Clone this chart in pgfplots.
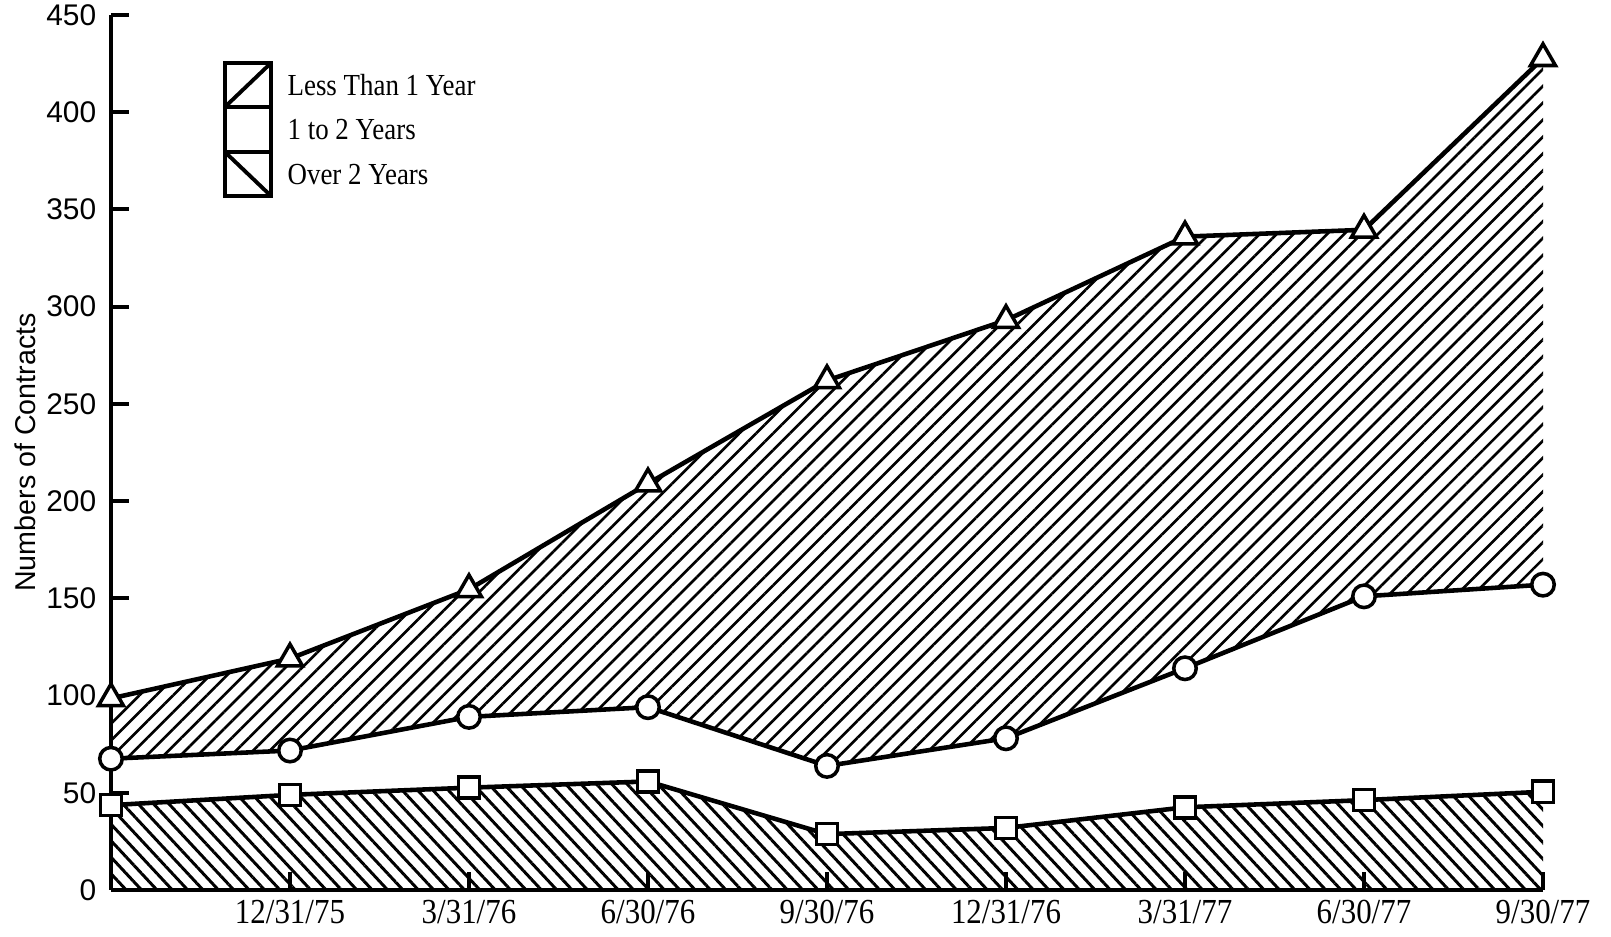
\documentclass[border=0pt]{standalone}
\usepackage{pgfplots}
\pgfplotsset{compat=1.18}
\usepackage{pgfplotstable}
\usepgfplotslibrary{fillbetween}
\usetikzlibrary{patterns.meta}
\usepackage{fontspec}
\setmainfont{Liberation Serif}[FakeStretch=0.88]
\newfontfamily\sansf{Liberation Sans}

\pgfplotstableread{
x tri cir sq
0 98.5 67.5 43.6
1 119 71.7 48.9
2 154.6 89 52.6
3 209 94 55.8
4 262 63.8 28.7
5 293 78 31.9
6 336 114 42.5
7 339.5 151 46.2
8 427.7 157 50.5
}\data

\begin{document}
\begin{tikzpicture}
\begin{axis}[
  width=143.2mm, height=87.5mm, scale only axis,
  xmin=0, xmax=8, ymin=0, ymax=450,
  axis lines=left, axis line style={-, line width=1.2pt},
  xtick={0,...,8},
  xticklabels={,12/31/75,3/31/76,6/30/76,9/30/76,12/31/76,3/31/77,6/30/77,9/30/77},
  ytick={0,50,...,450},
  tick align=inside, major tick length=5pt,
  tick style={line width=1.1pt, black},
  /pgf/number format/assume math mode=true,
  yticklabel style={font=\sansf\fontsize{8.5}{10}\selectfont, inner xsep=4pt, inner ysep=0pt},
  xticklabel style={font=\fontsize{10}{12}\selectfont, yshift=0.5pt},
  ylabel={Numbers of Contracts},
  ylabel style={font=\sansf\fontsize{8.15}{10}\selectfont, at={(axis description cs:-0.06,0.5)}, anchor=center},
  clip=false,
]
\addplot[draw=none, name path=tri, forget plot] table[x=x, y=tri] {\data};
\addplot[draw=none, name path=cir, forget plot] table[x=x, y=cir] {\data};
\addplot[pattern={Lines[angle=45, distance=3.4pt, line width=0.75pt]}, draw=none] fill between[of=tri and cir];
\addplot[pattern={Lines[angle=-47, distance=3.2pt, line width=0.85pt]}, draw=none] table[x=x, y=sq] {\data} \closedcycle;

\addplot[black, line width=1.3pt, mark=triangle*, mark size=4.1pt, mark options={fill=white, line width=1pt}] table[x=x, y=tri] {\data};
\addplot[black, line width=1.3pt, mark=*, mark size=3.2pt, mark options={fill=white, line width=1pt}] table[x=x, y=cir] {\data};
\addplot[black, line width=1.3pt, mark=square*, mark size=3pt, mark options={fill=white, line width=1pt}] table[x=x, y=sq] {\data};

% legend
\draw[line width=1.1pt] (axis cs:0.637,356.9) rectangle (axis cs:0.894,425.3);
\draw[line width=1.1pt] (axis cs:0.637,402.7) -- (axis cs:0.894,402.7);
\draw[line width=1.1pt] (axis cs:0.637,379.5) -- (axis cs:0.894,379.5);
\draw[line width=1.1pt] (axis cs:0.637,402.7) -- (axis cs:0.894,425.3);
\draw[line width=1.1pt] (axis cs:0.637,379.5) -- (axis cs:0.894,356.9);
\node[anchor=west, font=\fontsize{8.7}{10}\selectfont, inner sep=0pt] at (axis cs:0.983,414) {Less Than 1 Year};
\node[anchor=west, font=\fontsize{8.7}{10}\selectfont, inner sep=0pt] at (axis cs:0.983,391) {1 to 2 Years};
\node[anchor=west, font=\fontsize{8.7}{10}\selectfont, inner sep=0pt] at (axis cs:0.983,368) {Over 2 Years};

\path (rel axis cs:-0.0775,-0.0526) rectangle (rel axis cs:1.0475,1.0171);
\end{axis}
\end{tikzpicture}
\end{document}
